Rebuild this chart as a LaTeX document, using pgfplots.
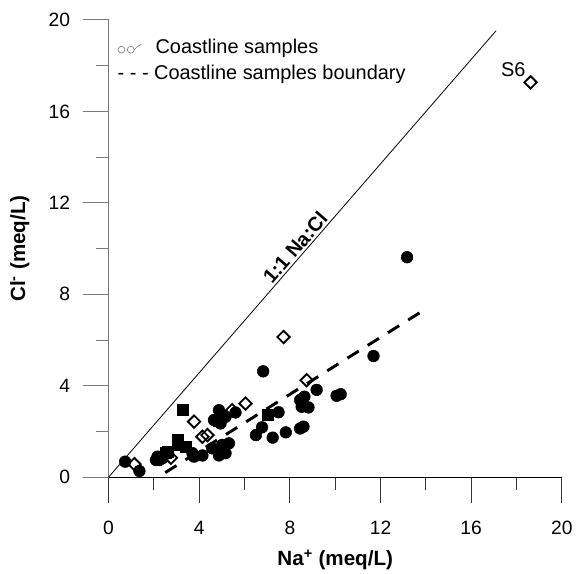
\documentclass[border=0pt]{standalone}
\usepackage{fontspec}
\setmainfont{Liberation Sans}
\usepackage{pgfplots}
\pgfplotsset{compat=1.18}
\usetikzlibrary{calc}
\definecolor{axisgray}{HTML}{7A7A7A}

\begin{document}
\begin{tikzpicture}
\begin{axis}[
  scale only axis,
  width=341.25pt,
  height=344.25pt,
  xmin=0,xmax=20,
  ymin=0,ymax=20,
  axis x line=bottom,
  axis y line=left,
  x axis line style={black,line width=0.75pt,-},
  y axis line style={axisgray,line width=0.75pt,-},
  xtick={0,4,...,20},
  ytick={0,4,...,20},
  minor x tick num=1,
  minor y tick num=1,
  tick align=outside,
  major tick length=19.5pt,
  minor tick length=9.75pt,
  tick style={line width=0.75pt},
  every x tick/.append style={black!80},
  every y tick/.append style={axisgray},
  /pgf/number format/assume math mode=true,
  ticklabel style={font=\fontsize{14.5}{17}\selectfont},
  xticklabel style={yshift=-10pt},
  yticklabel style={xshift=-6pt},
  xlabel={\textbf{Na\textsuperscript{+} (meq/L)}},
  ylabel={\textbf{Cl\textsuperscript{-} (meq/L)}},
  label style={font=\fontsize{15.5}{18}\selectfont},
  xlabel style={at={(axis description cs:0.5,-0.18)},anchor=center},
  ylabel style={at={(axis description cs:-0.196,0.5)},anchor=center},
  clip=false,
]
% 1:1 line
\addplot[black,line width=0.6pt] coordinates {(0,0) (17.1,19.53)}
  node[pos=0.5,sloped,above,inner sep=1.5pt,font=\bfseries\fontsize{15}{18}\selectfont] {1:1 Na:Cl};
% boundary
\addplot[black,line width=2.2pt,dash pattern=on 10pt off 8pt] coordinates {(2.5,0.2) (13.9,7.3)};
% filled circles
\addplot[only marks,mark=*,mark size=4.4pt,black] coordinates {
  (0.73,0.68) (1.36,0.27) (2.09,0.75) (2.16,0.90) (2.24,0.75) (2.38,0.83)
  (3.70,1.05) (3.77,0.90) (4.14,0.95) (4.57,1.26) (4.87,0.95) (5.01,1.41)
  (5.16,1.05) (5.31,1.48) (4.65,2.50) (4.87,2.93) (4.94,2.35) (5.16,2.64)
  (5.60,2.83) (6.50,1.84) (6.77,2.18) (6.82,4.63) (7.24,1.73) (7.50,2.84)
  (7.82,1.96) (8.45,2.13) (8.60,2.21) (8.45,3.37) (8.64,3.52) (8.52,3.08)
  (8.82,3.05) (9.18,3.82) (10.06,3.56) (10.24,3.63) (11.69,5.30) (13.17,9.62)
};
% filled squares
\addplot[only marks,mark=square*,mark size=4.1pt,black] coordinates {
  (2.53,1.05) (2.60,1.12) (3.04,1.63) (3.04,1.41) (3.41,1.34) (3.26,2.93)
  (4.85,2.45) (7.04,2.73)
};
% open diamonds (coastline samples)
\addplot[only marks,mark=square,mark size=3.3pt,
  mark options={rotate=45,fill=white,line width=1.4pt},black] coordinates {
  (1.14,0.57) (2.75,0.85) (3.77,2.43) (4.14,1.77) (4.36,1.84) (5.45,2.93)
  (6.04,3.22) (7.72,6.13) (8.74,4.24) (18.62,17.27)
};
\node[font=\fontsize{15}{18}\selectfont] at (axis cs:17.86,17.82) {S6};
% legend
\node[anchor=west,inner sep=0pt] at (axis cs:0.39,18.74)
  {\tikz[baseline=-0.5ex,gray,line width=0.5pt]{
     \draw (0,0) circle (2.6pt); \draw (7pt,0) circle (2.6pt);
     \draw (9.6pt,0) .. controls (12pt,2pt) and (13pt,4pt) .. (15pt,4pt);}};
\node[anchor=west,inner sep=0pt,font=\fontsize{15}{18}\selectfont] at (axis cs:2.06,18.74) {Coastline samples};
\node[anchor=west,inner sep=0pt,font=\fontsize{15}{18}\selectfont] at (axis cs:0.39,17.6) {- - - Coastline samples boundary};
\coordinate (ll) at (rel axis cs:0,0);
\coordinate (ur) at (rel axis cs:1,1);
\end{axis}
\path[use as bounding box] ($(ll)+(-81.75pt,-72pt)$) rectangle ($(ur)+(9.75pt,15pt)$);
\end{tikzpicture}
\end{document}
